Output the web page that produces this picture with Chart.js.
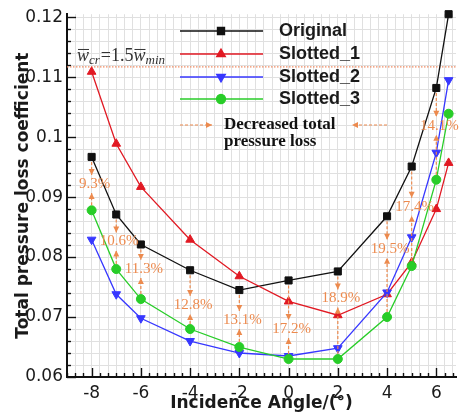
<!DOCTYPE html>
<html><head><meta charset="utf-8">
<script src="https://cdn.jsdelivr.net/npm/chart.js@4/dist/chart.umd.min.js"></script>
<style>html,body{margin:0;padding:0;background:#fff;}canvas{display:block;}</style>
</head><body>
<canvas id="c" width="462" height="414"></canvas>
<script>
// ---- data ----
const angles    = [-8, -7, -6, -4, -2, 0, 2, 4, 5, 6, 6.5];
const original  = [0.0967, 0.0871, 0.0821, 0.0778, 0.0745, 0.0761, 0.0776, 0.0868, 0.0951, 0.1082, 0.1205];
const slotted1  = [0.1109, 0.0989, 0.0917, 0.0829, 0.0768, 0.0726, 0.0703, 0.0738, 0.0791, 0.0880, 0.0957];
const slotted2  = [0.0829, 0.0738, 0.0698, 0.0660, 0.0640, 0.0635, 0.0648, 0.0741, 0.0833, 0.0974, 0.1095];
const slotted3  = [0.0878, 0.0780, 0.0730, 0.0680, 0.0650, 0.0630, 0.0630, 0.0700, 0.0785, 0.0929, 0.1039];
const seriesNames = ['Original', 'Slotted_1', 'Slotted_2', 'Slotted_3'];

const annX    = [-8, -7, -6, -4, -2, 0, 2, 4, 5, 6];
const annText = ['9.3%', '10.6%', '11.3%', '12.8%', '13.1%', '17.2%', '18.9%', '19.5%', '17.4%', '14.1%'];
const annY    = [0.0922, 0.0826, 0.0780, 0.0720, 0.0695, 0.0680, 0.0731, 0.0814, 0.0884, 0.1019];

const criticalLoss = 0.1117;
const xTickLabels = ['-8', '-6', '-4', '-2', '0', '2', '4', '6'];
const yTickLabels = ['0.06', '0.07', '0.08', '0.09', '0.1', '0.11', '0.12'];

// ---- derived ticks (majors from labels, minors between) ----
const xMajors = xTickLabels.map(Number);
const yMajors = yTickLabels.map(Number);
const xTickVals = [];
for (let k = -3; k <= 44; k++) xTickVals.push(-8 + k / 3);
const yTickVals = [];
for (let k = 0; k <= 30; k++) yTickVals.push((60 + 2 * k) / 1000);
const isMajorX = v => xMajors.some(m => Math.abs(m - v) < 1e-6);
const isMajorY = v => yMajors.some(m => Math.abs(m - v) < 1e-9);

const COL = {
  black: '#111111', red: 'rgb(225,25,35)', blue: 'rgb(55,55,255)', green: 'rgb(40,205,40)',
  orange: 'rgb(236,138,78)', grid: 'rgb(224,224,224)'
};
const styles = [
  {color: COL.black, pointStyle: 'rect', radius: 5, rotation: 0},
  {color: COL.red, pointStyle: 'triangle', radius: 5, rotation: 0},
  {color: COL.blue, pointStyle: 'triangle', radius: 5, rotation: 180},
  {color: COL.green, pointStyle: 'circle', radius: 4.5, rotation: 0}
];
const seriesData = [original, slotted1, slotted2, slotted3];

const datasets = seriesData.map((arr, i) => ({
  label: seriesNames[i],
  data: angles.map((a, j) => ({x: a, y: arr[j]})),
  borderColor: styles[i].color,
  backgroundColor: styles[i].color,
  borderWidth: 1.3,
  pointStyle: styles[i].pointStyle,
  pointRadius: styles[i].radius,
  pointRotation: styles[i].rotation,
  pointBorderWidth: 1,
  pointBackgroundColor: styles[i].color,
  pointBorderColor: styles[i].color,
  tension: 0,
  clip: false,
  order: 3 - i
}));

function arrowLine(ctx, x, y1, y2) {
  ctx.save();
  ctx.setLineDash([3, 2]);
  ctx.beginPath(); ctx.moveTo(x, y1); ctx.lineTo(x, y2); ctx.stroke();
  ctx.setLineDash([]);
  const d = y2 > y1 ? 1 : -1;
  ctx.beginPath();
  ctx.moveTo(x, y2); ctx.lineTo(x - 3, y2 - d * 6); ctx.lineTo(x + 3, y2 - d * 6); ctx.closePath();
  ctx.fill();
  ctx.restore();
}
function arrowH(ctx, x1, x2, y) {
  ctx.save();
  ctx.setLineDash([3, 2]);
  ctx.beginPath(); ctx.moveTo(x1, y); ctx.lineTo(x2, y); ctx.stroke();
  ctx.setLineDash([]);
  const d = x2 > x1 ? 1 : -1;
  ctx.beginPath();
  ctx.moveTo(x2, y); ctx.lineTo(x2 - d * 6, y - 3); ctx.lineTo(x2 - d * 6, y + 3); ctx.closePath();
  ctx.fill();
  ctx.restore();
}

const inwardTicks = {
  id: 'inwardTicks',
  beforeDatasetsDraw(chart) {
    const {ctx, chartArea: a, scales: {x, y}} = chart;
    ctx.save();
    ctx.strokeStyle = '#111'; ctx.lineWidth = 1.4;
    x.ticks.forEach(t => {
      const px = Math.round(x.getPixelForValue(t.value)) + 0.5;
      const len = isMajorX(t.value) ? 9 : 4;
      ctx.beginPath(); ctx.moveTo(px, a.bottom); ctx.lineTo(px, a.bottom - len); ctx.stroke();
    });
    y.ticks.forEach(t => {
      const py = Math.round(y.getPixelForValue(t.value)) + 0.5;
      const len = isMajorY(t.value) ? 9 : 4;
      ctx.beginPath(); ctx.moveTo(a.left, py); ctx.lineTo(a.left + len, py); ctx.stroke();
    });
    // critical loss dotted line
    const cy = y.getPixelForValue(criticalLoss);
    ctx.strokeStyle = 'rgb(240,140,100)'; ctx.lineWidth = 1.2; ctx.setLineDash([1.5, 1.5]);
    ctx.beginPath(); ctx.moveTo(a.left, cy); ctx.lineTo(a.right, cy); ctx.stroke();
    ctx.restore();
  },
  afterDatasetsDraw(chart) {
    const {ctx, scales: {x, y}} = chart;
    ctx.save();
    ctx.strokeStyle = COL.orange; ctx.fillStyle = COL.orange; ctx.lineWidth = 1.2;
    annX.forEach((ax, i) => {
      const j = angles.indexOf(ax);
      const px = x.getPixelForValue(ax);
      const ly = y.getPixelForValue(annY[i]);
      const top = y.getPixelForValue(original[j]) + 5;
      const bot = y.getPixelForValue(slotted3[j]) - 5;
      arrowLine(ctx, px, top, ly - 9);
      arrowLine(ctx, px, bot, ly + 9);
    });
    ctx.font = '15px "Liberation Serif"';
    ctx.textAlign = 'center'; ctx.textBaseline = 'middle';
    annX.forEach((ax, i) => {
      ctx.fillText(annText[i], x.getPixelForValue(ax) + 3, y.getPixelForValue(annY[i]));
    });
    ctx.restore();
  },
  afterDraw(chart) {
    const {ctx, scales: {y}} = chart;
    ctx.save();
    // legend
    const rows = [31, 54, 77, 99];
    seriesNames.forEach((n, i) => {
      const s = styles[i];
      ctx.strokeStyle = s.color; ctx.fillStyle = s.color; ctx.lineWidth = 1.3;
      ctx.beginPath(); ctx.moveTo(180, rows[i]); ctx.lineTo(263, rows[i]); ctx.stroke();
      Chart.helpers.drawPoint(ctx, {pointStyle: s.pointStyle, radius: s.radius, rotation: s.rotation, borderWidth: 1}, 221, rows[i]);
      ctx.fillStyle = '#1a1a1a';
      ctx.font = 'bold 18px "Liberation Sans"';
      ctx.textAlign = 'left'; ctx.textBaseline = 'middle';
      ctx.fillText(n, 279, rows[i] + 0.5);
    });
    ctx.strokeStyle = COL.orange; ctx.fillStyle = COL.orange; ctx.lineWidth = 1.2;
    arrowH(ctx, 180, 212, 125);
    arrowH(ctx, 387, 352, 125);
    ctx.fillStyle = '#111';
    ctx.font = 'bold 17px "Liberation Serif"';
    ctx.textAlign = 'left'; ctx.textBaseline = 'middle';
    ctx.fillText('Decreased total', 224, 125);
    ctx.fillText('pressure loss', 224, 142);
    // critical label  w̄cr = 1.5 w̄min
    const base = y.getPixelForValue(criticalLoss) - 6;
    ctx.fillStyle = '#333'; ctx.strokeStyle = '#333'; ctx.lineWidth = 1;
    ctx.textBaseline = 'alphabetic';
    let cx = 77;
    ctx.font = 'italic 18px "Liberation Serif"';
    const ww = ctx.measureText('w').width;
    ctx.fillText('w', cx, base);
    ctx.beginPath(); ctx.moveTo(cx + 1, base - 11.5); ctx.lineTo(cx + ww, base - 11.5); ctx.stroke();
    cx += ww;
    ctx.font = 'italic 13px "Liberation Serif"';
    ctx.fillText('cr', cx, base + 3); cx += ctx.measureText('cr').width + 1;
    ctx.font = '18px "Liberation Serif"';
    ctx.fillText('=1.5', cx, base); cx += ctx.measureText('=1.5').width;
    ctx.font = 'italic 18px "Liberation Serif"';
    ctx.fillText('w', cx, base);
    ctx.beginPath(); ctx.moveTo(cx + 1, base - 11.5); ctx.lineTo(cx + ww, base - 11.5); ctx.stroke();
    cx += ww;
    ctx.font = 'italic 13px "Liberation Serif"';
    ctx.fillText('min', cx, base + 3);
    ctx.restore();
  }
};

new Chart(document.getElementById('c'), {
  type: 'line',
  data: {datasets},
  plugins: [inwardTicks],
  options: {
    responsive: false,
    animation: false,
    layout: {padding: {top: 13, right: 0, bottom: 0, left: 0}},
    plugins: {legend: {display: false}, tooltip: {enabled: false}},
    scales: {
      x: {
        type: 'linear', min: -9, max: 6.8,
        afterBuildTicks: s => { s.ticks = xTickVals.map(v => ({value: v})); },
        afterFit: s => { s.height = 37; },
        grid: {color: COL.grid, lineWidth: 1, drawTicks: false},
        border: {color: '#111', width: 2},
        ticks: {
          autoSkip: false, maxRotation: 0, padding: 6, color: '#1a1a1a',
          font: {family: 'DejaVu Sans', size: 17},
          callback: v => { const i = xMajors.findIndex(m => Math.abs(m - v) < 1e-6); return i >= 0 ? xTickLabels[i] : ''; }
        },
        title: {display: true, text: 'Incidence Angle/(°)', color: '#1a1a1a',
          font: {family: 'DejaVu Sans', size: 17, weight: 'bold'}, padding: {top: 0, bottom: 0}}
      },
      y: {
        type: 'linear', min: 0.06, max: 0.1205,
        afterBuildTicks: s => { s.ticks = yTickVals.map(v => ({value: v})); },
        afterFit: s => { s.width = 67; },
        grid: {color: COL.grid, lineWidth: 1, drawTicks: false},
        border: {color: '#111', width: 2},
        ticks: {
          autoSkip: false, padding: 4, color: '#1a1a1a',
          font: {family: 'DejaVu Sans', size: 17},
          callback: v => { const i = yMajors.findIndex(m => Math.abs(m - v) < 1e-9); return i >= 0 ? yTickLabels[i] : ''; }
        },
        title: {display: true, text: 'Total pressure loss coefficient', color: '#1a1a1a',
          font: {family: 'DejaVu Sans', size: 17, weight: 'bold'}, padding: {top: 13, bottom: 0}}
      }
    }
  }
});
</script>
</body></html>
